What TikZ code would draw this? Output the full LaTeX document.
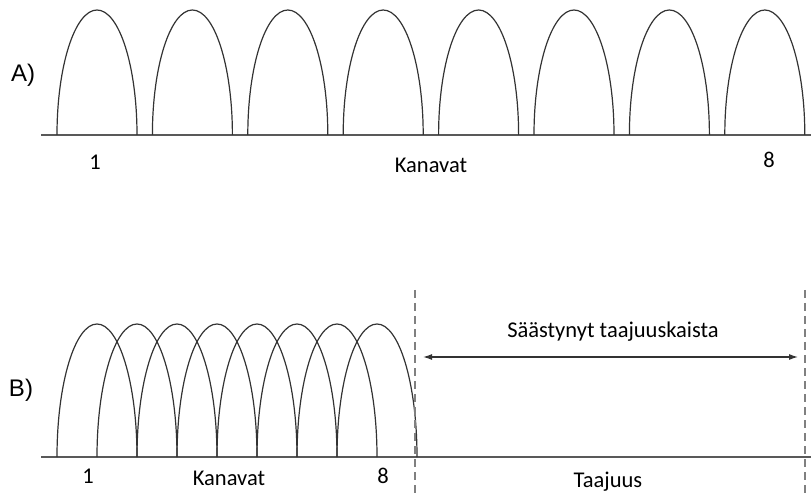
\documentclass[tikz,border=0pt]{standalone}
\usepackage{fontspec}
\setmainfont{Carlito}
\newfontfamily\panelfont{Liberation Sans}
\usetikzlibrary{arrows.meta}
\tikzset{
  axis/.style={line width=1.5pt, black!65},
  lobe/.style={line width=1.2pt, black!80},
  bandedge/.style={line width=1.5pt, black!50, dash pattern=on 8pt off 5pt},
  lbl/.style={font=\fontsize{22.5}{22.5}\selectfont, anchor=base, inner sep=0pt},
  panel/.style={font=\panelfont\fontsize{24}{24}\selectfont, inner sep=0pt}
}
\begin{document}
\begin{tikzpicture}[x=1pt,y=1pt]
\useasboundingbox (0,0) rectangle (811,493);
% A) erilliset kanavat
\draw[axis] (41,358) -- (811,358);
\draw[lobe] (57,358) arc[start angle=180, end angle=0, x radius=40, y radius=125];
\draw[lobe] (152.4,358) arc[start angle=180, end angle=0, x radius=40, y radius=125];
\draw[lobe] (247.8,358) arc[start angle=180, end angle=0, x radius=40, y radius=125];
\draw[lobe] (343.2,358) arc[start angle=180, end angle=0, x radius=40, y radius=125];
\draw[lobe] (438.6,358) arc[start angle=180, end angle=0, x radius=40, y radius=125];
\draw[lobe] (534,358) arc[start angle=180, end angle=0, x radius=40, y radius=125];
\draw[lobe] (629.4,358) arc[start angle=180, end angle=0, x radius=40, y radius=125];
\draw[lobe] (724.8,358) arc[start angle=180, end angle=0, x radius=40, y radius=125];
\node[panel] (pa) at (23,418) {A)};
\node[lbl] (a1) at (95,323) {1};
\node[lbl] (akan) at (431,320) {Kanavat};
\node[lbl] (a8) at (769,325) {8};
% B) limittyvat kanavat
\draw[axis] (41,36) -- (811,36);
\draw[lobe] (57,36) arc[start angle=180, end angle=0, x radius=40, y radius=133];
\draw[lobe] (97,36) arc[start angle=180, end angle=0, x radius=40, y radius=133];
\draw[lobe] (137,36) arc[start angle=180, end angle=0, x radius=40, y radius=133];
\draw[lobe] (177,36) arc[start angle=180, end angle=0, x radius=40, y radius=133];
\draw[lobe] (217,36) arc[start angle=180, end angle=0, x radius=40, y radius=133];
\draw[lobe] (257,36) arc[start angle=180, end angle=0, x radius=40, y radius=133];
\draw[lobe] (297,36) arc[start angle=180, end angle=0, x radius=40, y radius=133];
\draw[lobe] (337,36) arc[start angle=180, end angle=0, x radius=40, y radius=133];
\coordinate (l1) at (415,203);
\coordinate (l2) at (415,0);
\coordinate (r1) at (805,203);
\coordinate (r2) at (805,0);
\draw[bandedge] (l1) -- (l2);
\draw[bandedge] (r1) -- (r2);
\coordinate (s1) at (423,136);
\coordinate (s2) at (798,136);
\draw[line width=1.2pt, black!80, {Latex[length=9pt,width=6pt]}-{Latex[length=9pt,width=6pt]}] (s1) -- (s2);
\node[panel] (pb) at (21,103) {B)};
\node[lbl] (b1) at (88,10) {1};
\node[lbl] (bkan) at (229,8) {Kanavat};
\node[lbl] (b8) at (383,10) {8};
\node[lbl] (sast) at (613,156) {Säästynyt taajuuskaista};
\node[lbl] (taaj) at (608,6) {Taajuus};
\end{tikzpicture}
\end{document}
